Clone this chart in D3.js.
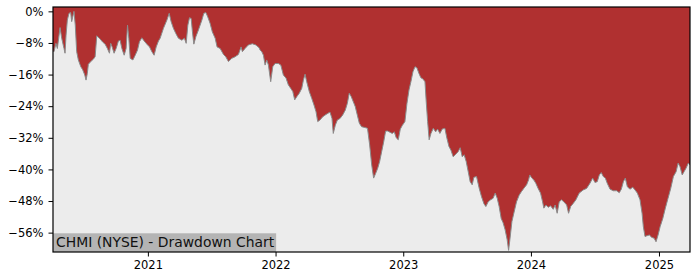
<!DOCTYPE html>
<html>
<head>
<meta charset="utf-8">
<script src="https://cdn.jsdelivr.net/npm/d3@7"></script>
<style>
  body { margin: 0; background: #fff; }
  svg text { font-family: "DejaVu Sans", sans-serif; }
</style>
</head>
<body>
<div id="content"></div>
<script>
// drawdown series: decimal year and drawdown in %
var years = [
  2020.259, 2020.267, 2020.282, 2020.293, 2020.314, 2020.327, 2020.345, 2020.353, 2020.361, 2020.371,
  2020.384, 2020.397, 2020.405, 2020.413, 2020.423, 2020.433, 2020.444, 2020.457, 2020.476, 2020.491,
  2020.507, 2020.517, 2020.527, 2020.535, 2020.554, 2020.574, 2020.588, 2020.601, 2020.621, 2020.648,
  2020.666, 2020.684, 2020.700, 2020.710, 2020.721, 2020.736, 2020.752, 2020.770, 2020.783, 2020.797,
  2020.815, 2020.830, 2020.841, 2020.851, 2020.862, 2020.883, 2020.901, 2020.919, 2020.934, 2020.953,
  2020.971, 2020.992, 2021.013, 2021.031, 2021.049, 2021.065, 2021.083, 2021.096, 2021.122, 2021.149,
  2021.167, 2021.182, 2021.200, 2021.219, 2021.239, 2021.266, 2021.286, 2021.300, 2021.313, 2021.326,
  2021.339, 2021.349, 2021.360, 2021.376, 2021.396, 2021.423, 2021.438, 2021.454, 2021.469, 2021.487,
  2021.505, 2021.527, 2021.542, 2021.566, 2021.592, 2021.610, 2021.631, 2021.657, 2021.683, 2021.709,
  2021.730, 2021.740, 2021.761, 2021.787, 2021.818, 2021.845, 2021.871, 2021.879, 2021.892, 2021.905,
  2021.918, 2021.931, 2021.944, 2021.962, 2021.978, 2021.996, 2022.022, 2022.041, 2022.061, 2022.082,
  2022.100, 2022.119, 2022.135, 2022.150, 2022.166, 2022.186, 2022.205, 2022.218, 2022.231, 2022.244,
  2022.264, 2022.283, 2022.301, 2022.317, 2022.330, 2022.348, 2022.369, 2022.395, 2022.426, 2022.442,
  2022.452, 2022.468, 2022.484, 2022.505, 2022.526, 2022.546, 2022.562, 2022.577, 2022.593, 2022.609,
  2022.624, 2022.640, 2022.656, 2022.674, 2022.700, 2022.720, 2022.737, 2022.753, 2022.768, 2022.784,
  2022.800, 2022.815, 2022.831, 2022.847, 2022.862, 2022.878, 2022.896, 2022.914, 2022.930, 2022.945,
  2022.961, 2022.977, 2022.992, 2023.013, 2023.029, 2023.045, 2023.060, 2023.076, 2023.092, 2023.107,
  2023.123, 2023.138, 2023.154, 2023.170, 2023.180, 2023.191, 2023.203, 2023.217, 2023.235, 2023.254,
  2023.269, 2023.287, 2023.305, 2023.326, 2023.342, 2023.358, 2023.373, 2023.391, 2023.410, 2023.430,
  2023.446, 2023.462, 2023.477, 2023.493, 2023.509, 2023.524, 2023.540, 2023.553, 2023.574, 2023.595,
  2023.613, 2023.632, 2023.647, 2023.665, 2023.684, 2023.704, 2023.720, 2023.736, 2023.751, 2023.767,
  2023.782, 2023.798, 2023.814, 2023.825, 2023.835, 2023.851, 2023.866, 2023.887, 2023.908, 2023.926,
  2023.944, 2023.966, 2023.981, 2023.991, 2024.007, 2024.023, 2024.038, 2024.056, 2024.075, 2024.091,
  2024.101, 2024.117, 2024.135, 2024.153, 2024.174, 2024.189, 2024.205, 2024.221, 2024.239, 2024.257,
  2024.279, 2024.294, 2024.310, 2024.330, 2024.351, 2024.377, 2024.408, 2024.435, 2024.461, 2024.482,
  2024.500, 2024.518, 2024.534, 2024.549, 2024.565, 2024.581, 2024.596, 2024.618, 2024.643, 2024.670,
  2024.690, 2024.706, 2024.722, 2024.737, 2024.753, 2024.774, 2024.795, 2024.813, 2024.831, 2024.852,
  2024.868, 2024.878, 2024.891, 2024.905, 2024.925, 2024.944, 2024.962, 2024.977, 2024.993, 2025.009,
  2025.030, 2025.050, 2025.071, 2025.092, 2025.113, 2025.134, 2025.150, 2025.165, 2025.182, 2025.196,
  2025.212, 2025.230, 2025.243
];
var drawdown = [
  -10.0, -10.2, -8.1, -9.4, -4.1, -6.8, -9.4, -10.6, -6.0, -2.2,
  -0.5, -0.3, -2.6, -1.4, 0.0, -3.5, -10.2, -12.3, -14.0, -14.8,
  -16.1, -17.4, -15.7, -13.4, -12.7, -12.1, -11.5, -6.2, -6.8, -7.8,
  -8.3, -9.4, -10.6, -8.1, -9.0, -10.6, -9.4, -7.5, -7.3, -9.4,
  -11.1, -9.4, -3.5, -6.8, -11.9, -12.3, -11.1, -9.8, -7.7, -6.7,
  -7.5, -8.3, -9.0, -10.2, -11.1, -9.0, -7.5, -6.8, -4.3, -2.2,
  -0.5, -2.6, -4.3, -5.6, -6.8, -7.3, -6.8, -8.1, -3.5, -1.6,
  -1.8, -5.2, -8.3, -6.4, -4.7, -2.2, -0.5, -0.3, -1.4, -3.0,
  -5.2, -6.8, -9.0, -9.4, -10.9, -11.5, -12.7, -11.9, -11.5, -10.9,
  -9.0, -10.2, -9.4, -8.5, -8.2, -8.5, -9.2, -9.8, -10.2, -11.1,
  -13.6, -12.3, -13.6, -17.8, -14.0, -13.2, -13.2, -13.6, -16.1, -16.9,
  -18.6, -19.5, -20.3, -22.4, -21.6, -20.7, -19.5, -17.4, -15.9, -17.8,
  -20.3, -22.0, -23.7, -25.4, -27.9, -27.5, -26.7, -26.1, -25.5, -27.1,
  -30.9, -28.8, -27.5, -27.1, -26.2, -25.0, -23.3, -20.7, -21.6, -22.9,
  -24.1, -26.2, -28.3, -29.2, -29.4, -29.6, -33.8, -38.9, -42.2, -41.0,
  -39.7, -38.0, -35.5, -33.0, -30.3, -30.3, -30.6, -30.9, -30.5, -32.0,
  -32.5, -29.8, -28.9, -27.9, -23.3, -19.9, -17.8, -15.3, -14.0, -14.3,
  -15.7, -16.8, -17.1, -17.8, -22.9, -27.9, -32.5, -30.9, -29.6, -30.5,
  -29.8, -30.9, -29.8, -29.6, -32.1, -34.2, -35.1, -36.8, -36.2, -35.5,
  -34.5, -36.8, -36.3, -38.0, -40.6, -43.1, -43.9, -42.0, -41.8, -44.8,
  -46.9, -48.7, -49.4, -48.2, -47.7, -47.3, -46.0, -47.3, -49.4, -52.4,
  -53.5, -55.3, -57.8, -60.5, -57.8, -53.2, -51.1, -48.2, -46.5, -45.6,
  -44.8, -43.9, -42.7, -41.4, -42.2, -42.7, -43.5, -44.8, -46.0, -48.2,
  -49.8, -49.0, -49.6, -49.2, -50.1, -49.0, -51.1, -48.2, -47.7, -48.2,
  -49.0, -51.1, -49.4, -48.6, -47.7, -46.0, -45.2, -44.8, -43.5, -42.2,
  -43.3, -43.1, -41.4, -40.8, -41.8, -42.2, -43.5, -45.0, -45.4, -45.4,
  -45.9, -45.0, -43.1, -42.2, -44.4, -45.0, -44.5, -45.2, -46.0, -47.7,
  -51.1, -54.5, -57.0, -56.8, -56.6, -57.2, -57.4, -58.3, -56.6, -54.5,
  -52.4, -49.8, -47.3, -44.8, -41.8, -40.6, -38.4, -39.3, -41.4, -40.6,
  -39.7, -38.4, -38.9
];
var yTicks = [0, -8, -16, -24, -32, -40, -48, -56];
var yDomain = [-60.9, 1.1];
var title = "CHMI (NYSE) - Drawdown Chart";

var W = 700, H = 280;
var margin = { top: 7, right: 10, bottom: 28, left: 53 },
    width = W - margin.left - margin.right,
    height = H - margin.top - margin.bottom;

function yearToDate(y) {
  var y0 = Math.floor(y);
  var a = new Date(y0, 0, 1), b = new Date(y0 + 1, 0, 1);
  return new Date(+a + (y - y0) * (b - a));
}

var data = years.map(function (y, i) {
  return { date: yearToDate(y), dd: drawdown[i] };
});

var x = d3.scaleTime()
    .domain(d3.extent(data, function (d) { return d.date; }))
    .range([0, width]);
var y = d3.scaleLinear()
    .domain(yDomain)
    .range([height, 0]);

var svg = d3.select("#content").append("svg")
    .attr("width", W)
    .attr("height", H);
var g = svg.append("g")
    .attr("transform", "translate(" + margin.left + "," + margin.top + ")");

// plot background
g.append("rect")
    .attr("width", width)
    .attr("height", height)
    .attr("fill", "#ececec");

// red area from the top of the plot down to the drawdown line
var area = d3.area()
    .x(function (d) { return x(d.date); })
    .y0(0)
    .y1(function (d) { return y(d.dd); });
g.append("path")
    .datum(data)
    .attr("fill", "#b03030")
    .attr("d", area);

var line = d3.line()
    .x(function (d) { return x(d.date); })
    .y(function (d) { return y(d.dd); });
g.append("path")
    .datum(data)
    .attr("fill", "none")
    .attr("stroke", "#8a8a8a")
    .attr("stroke-width", 1)
    .attr("d", line);

// title label in the lower left corner
var label = g.append("g");
var lt = label.append("text")
    .attr("x", 3)
    .attr("y", height - 5.3)
    .style("font-size", "13.9px")
    .attr("fill", "#111")
    .text(title);
var tw = lt.node().getComputedTextLength();
label.insert("rect", "text")
    .attr("x", 0)
    .attr("y", height - 18.7)
    .attr("width", tw + 5)
    .attr("height", 18.7)
    .attr("fill", "#b4b4b4");

// axes
var xAxis = d3.axisBottom(x)
    .ticks(d3.timeYear.every(1))
    .tickFormat(d3.timeFormat("%Y"))
    .tickSize(4.5)
    .tickPadding(4);
var yAxis = d3.axisLeft(y)
    .tickValues(yTicks)
    .tickFormat(function (d) { return (d < 0 ? "\u2212" + (-d) : d) + "%"; })
    .tickSize(4.5)
    .tickPadding(5);

var gx = g.append("g")
    .attr("transform", "translate(0," + height + ")")
    .call(xAxis);
var gy = g.append("g").call(yAxis);
[gx, gy].forEach(function (a) {
  a.select(".domain").remove();
  a.selectAll("line").attr("stroke", "#000").attr("stroke-width", 1);
  a.selectAll("text")
      .attr("fill", "#000")
      .style("font-size", "11.5px")
      .style("font-family", "DejaVu Sans, sans-serif");
});

// frame
g.append("rect")
    .attr("width", width)
    .attr("height", height)
    .attr("fill", "none")
    .attr("stroke", "#000")
    .attr("stroke-width", 1.2);
</script>
</body>
</html>
